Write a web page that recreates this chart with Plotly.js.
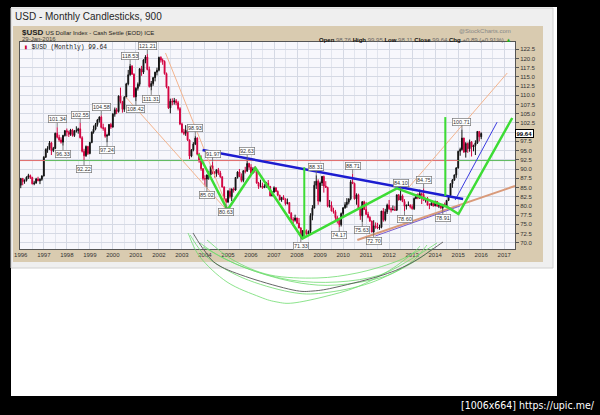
<!DOCTYPE html>
<html><head><meta charset="utf-8">
<script src="https://cdn.plot.ly/plotly-3.0.1.min.js"></script>
<style>html,body{margin:0;padding:0;background:#000;}#chart{width:600px;height:415px;}</style>
</head><body><div id="chart"></div>
<script>
// ================= DATA (monthly $USD, Jan 1996 .. Jan 2016) =================
const firstYear = 1996;
const opens = [
85.6,87.4,86.6,86.9,87.8,88.2,87.7,86.0,86.2,87.3,86.8,87.2,
88.1,93.2,95.3,95.6,97.1,95.0,95.6,99.7,98.6,97.9,97.3,99.1,
100.4,100.0,99.4,100.6,99.1,100.3,100.4,100.9,98.5,94.8,93.6,96.1,
94.2,97.2,100.0,100.8,102.1,103.3,104.1,101.3,101.0,98.9,99.2,102.1,
101.4,104.9,106.1,105.6,109.8,108.3,106.2,109.5,113.1,115.6,117.9,115.7,
109.6,111.9,113.0,117.2,116.3,119.6,120.4,117.0,112.4,113.2,114.8,116.3,
116.8,120.3,119.6,119.2,115.9,112.3,106.6,108.4,108.2,108.5,108.0,106.4,
102.2,100.0,99.7,100.5,97.9,93.5,95.2,96.8,98.4,94.0,92.2,90.1,
87.4,87.3,88.4,88.4,90.9,88.9,88.8,89.8,88.9,87.9,85.1,81.8,
81.0,84.0,82.5,84.6,84.3,87.7,89.2,88.0,86.9,89.5,89.4,91.5,
90.5,88.9,90.0,89.5,86.2,85.3,85.4,85.0,85.3,86.1,85.3,82.7,
83.7,84.9,83.9,82.9,81.6,82.3,81.9,80.6,80.9,78.0,76.3,76.1,
76.7,75.3,74.0,71.8,73.3,72.6,72.4,73.1,77.4,79.4,85.6,86.7,
81.3,86.2,88.0,85.4,85.0,79.9,80.1,78.6,78.4,76.8,76.4,74.9,
77.9,79.5,80.3,81.0,81.9,86.5,86.1,81.9,83.0,79.2,77.3,81.1,
79.0,77.7,76.9,75.9,72.9,74.6,74.3,74.0,74.2,78.6,76.2,78.4,
80.2,79.2,78.9,79.0,78.8,83.0,81.6,82.7,81.2,79.9,80.2,80.2,
79.8,79.2,82.0,83.0,82.1,83.3,83.1,81.5,82.0,80.2,80.2,80.7,
80.0,81.2,79.9,80.1,79.5,80.4,79.8,81.5,82.8,86.0,87.0,88.4,
90.3,94.8,95.3,98.4,94.6,96.9,95.5,97.3,96.0,96.4,97.1,100.2,
98.76];
const highs = [
87.6,87.6,87.2,88.0,88.7,88.5,87.9,86.8,87.6,87.9,87.5,88.3,
93.5,95.6,96.2,97.6,97.4,96.0,99.9,101.34,99.3,98.6,99.3,100.6,
101.0,100.4,100.9,100.9,100.6,101.6,101.2,102.55,98.9,95.5,96.4,96.3,
97.4,100.2,101.8,102.5,103.6,104.3,104.58,102.3,101.4,99.6,102.2,102.5,
105.2,106.7,106.6,110.0,112.1,108.5,109.8,113.4,116.9,118.53,118.2,116.0,
112.2,113.5,117.4,118.0,119.8,120.9,121.21,117.8,113.9,115.0,116.4,117.5,
120.5,120.6,120.0,119.5,116.2,112.4,109.1,109.2,109.3,109.0,108.5,106.8,
102.6,100.9,101.9,100.8,98.0,95.4,97.3,98.93,98.6,94.4,93.7,90.2,
88.3,88.5,89.5,91.0,91.97,89.4,89.9,90.3,89.5,88.0,85.3,82.1,
84.3,84.8,84.7,85.0,87.8,89.4,90.0,88.8,89.7,90.6,92.63,91.7,
91.3,90.5,90.7,89.7,86.5,87.1,86.3,85.9,86.5,87.0,85.4,83.9,
85.3,85.0,84.2,83.0,82.4,82.9,82.0,82.0,80.9,78.3,76.9,77.6,
76.8,76.7,74.2,73.4,73.5,73.6,73.3,78.0,80.2,86.7,88.31,87.2,
86.6,88.1,88.2,86.7,85.2,81.6,81.2,79.5,78.9,77.3,76.6,78.2,
79.6,81.0,82.1,82.0,87.0,88.71,86.3,83.4,83.3,79.3,81.3,81.4,
81.0,78.4,77.2,76.0,76.1,75.5,75.4,74.9,78.6,79.4,79.2,80.6,
81.6,79.6,80.1,79.9,83.0,83.2,84.10,83.1,81.8,80.3,81.2,80.4,
80.4,82.3,83.2,83.4,84.4,83.6,84.75,82.2,82.4,80.7,81.5,81.0,
81.4,81.3,80.5,80.4,80.4,80.9,81.5,82.8,86.1,87.3,88.5,90.5,
95.0,95.8,100.71,98.5,97.3,97.2,98.0,97.6,96.6,97.8,100.3,100.2,
99.95];
const lows = [
84.8,85.6,86.0,86.6,87.3,87.3,85.8,85.6,86.0,86.7,85.9,86.8,
88.0,93.0,94.4,95.2,93.8,94.6,95.4,98.3,97.4,96.9,96.33,98.8,
98.9,98.7,99.0,98.8,98.7,99.9,99.6,98.3,94.5,92.22,93.3,93.8,
94.0,97.0,99.6,100.5,101.5,102.6,101.0,100.4,98.5,97.24,99.0,100.9,
101.2,104.2,104.9,105.3,107.8,105.3,105.5,109.2,112.7,115.3,115.6,109.4,
108.42,111.3,112.4,115.3,115.8,118.7,116.8,112.1,111.31,112.6,113.8,115.4,
116.5,118.9,118.3,115.6,111.9,106.3,105.1,107.3,107.5,107.3,105.9,101.9,
99.7,99.2,99.0,97.6,92.7,93.2,94.8,96.5,93.7,91.7,89.5,86.9,
85.3,85.02,87.1,88.3,88.6,87.7,87.9,88.4,87.6,85.0,81.6,80.63,
80.9,82.0,81.3,83.6,84.1,87.4,87.8,86.4,86.4,88.8,89.3,89.8,
88.2,88.8,89.0,86.0,84.6,85.0,84.6,84.8,84.9,85.0,82.6,82.6,
83.6,83.8,82.7,81.5,81.1,81.6,80.1,80.4,77.9,76.2,74.5,75.7,
75.1,73.9,71.33,71.5,72.1,72.2,71.9,72.6,76.1,79.3,84.6,80.3,
81.0,85.4,83.6,84.9,79.6,79.5,78.5,77.9,76.1,75.2,74.17,74.4,
76.8,79.2,79.5,80.4,81.5,85.9,81.7,80.3,78.9,76.2,75.63,78.9,
77.5,76.6,75.6,72.8,72.70,73.8,73.7,73.5,73.9,75.7,75.8,77.8,
78.9,78.2,78.8,78.7,78.7,81.5,81.5,81.0,78.60,79.0,80.0,79.3,
79.0,78.9,81.8,81.8,81.9,80.5,81.4,80.9,80.1,79.1,80.0,79.8,
79.9,79.8,79.4,79.1,78.91,79.7,79.6,81.3,82.7,84.9,86.8,87.6,
90.1,93.6,95.0,94.4,93.1,94.4,94.7,93.4,94.8,93.8,96.8,97.5,
98.11];
const closes = [
87.4,86.6,86.9,87.8,88.2,87.7,86.0,86.2,87.3,86.8,87.2,88.1,
93.2,95.3,95.6,97.1,95.0,95.6,99.7,98.6,97.9,97.3,99.1,100.4,
100.0,99.4,100.6,99.1,100.3,100.4,100.9,98.5,94.8,93.6,96.1,94.2,
97.2,100.0,100.8,102.1,103.3,104.1,101.3,101.0,98.9,99.2,102.1,101.4,
104.9,106.1,105.6,109.8,108.3,106.2,109.5,113.1,115.6,117.9,115.7,109.6,
111.9,113.0,117.2,116.3,119.6,120.4,117.0,112.4,113.2,114.8,116.3,116.8,
120.3,119.6,119.2,115.9,112.3,106.6,108.4,108.2,108.5,108.0,106.4,102.2,
100.0,99.7,100.5,97.9,93.5,95.2,96.8,98.4,94.0,92.2,90.1,87.4,
87.3,88.4,88.4,90.9,88.9,88.8,89.8,88.9,87.9,85.1,81.8,81.0,
84.0,82.5,84.6,84.3,87.7,89.2,88.0,86.9,89.5,89.4,91.5,90.5,
88.9,90.0,89.5,86.2,85.3,85.4,85.0,85.3,86.1,85.3,82.7,83.7,
84.9,83.9,82.9,81.6,82.3,81.9,80.6,80.9,78.0,76.3,76.1,76.7,
75.3,74.0,71.8,73.3,72.6,72.4,73.1,77.4,79.4,85.6,86.7,81.3,
86.2,88.0,85.4,85.0,79.9,80.1,78.6,78.4,76.8,76.4,74.9,77.9,
79.5,80.3,81.0,81.9,86.5,86.1,81.9,83.0,79.2,77.3,81.1,79.0,
77.7,76.9,75.9,72.9,74.6,74.3,74.0,74.2,78.6,76.2,78.4,80.2,
79.2,78.9,79.0,78.8,83.0,81.6,82.7,81.2,79.9,80.2,80.2,79.8,
79.2,82.0,83.0,82.1,83.3,83.1,81.5,82.0,80.2,80.2,80.7,80.0,
81.2,79.9,80.1,79.5,80.4,79.8,81.5,82.8,86.0,87.0,88.4,90.3,
94.8,95.3,98.4,94.6,96.9,95.5,97.3,96.0,96.4,97.1,100.2,98.75,
99.64];

// swing-point price labels (months whose high / low is tagged)
const peakMonths   = ['1997-08','1998-08','1999-07','2000-10','2001-07','2003-08','2004-05','2005-11','2008-11','2010-06','2012-07','2013-07','2015-03'];
const troughMonths = ['1997-11','1998-10','1999-10','2001-01','2001-09','2004-02','2004-12','2008-03','2009-11','2010-11','2011-05','2012-09','2014-05'];

// header quote values
const lastQuote = {open:'98.76', high:'99.95', low:'98.11', close:'99.64', chg:'+0.89', pct:'+0.91%'};

// price-axis labels shown (100.0 sits under the last-price tag)
const yTickVals = [70,72.5,75,77.5,80,82.5,85,87.5,90,92.5,95,97.5,102.5,105,107.5,110,112.5,115,117.5,120,122.5];

// ----- user-drawn annotation lines (date, price) -----
const levelValue = 92.3;
const levelSegX = [['1995-12-20','1997-01-20'],['1997-01-20','2003-09-15'],['2003-09-15','2015-01-02'],['2015-01-02','2017-06-20']];
const levelSegAbove = [false,true,false,true];
const greenZigX = ['2003-09-20','2004-12-24','2006-03-13','2008-03-25','2012-05-03','2014-07-05','2015-01-05','2017-05-07'];
const greenZigY = [94.07,78.87,90.27,71.13,84.76,79.77,77.78,103.85];
const greenV1X = ['2008-04-25','2008-04-25'], greenV1Y = [90.5,71.3];
const greenV2X = ['2014-06-10','2014-06-10'], greenV2Y = [104.1,82.7];
const blueTrendX = ['2003-11-24','2015-03-20'], blueTrendY = [95.16,81.86];
const blueThinX = ['2014-11-13','2016-09-09'], blueThinY = [81.58,102.73];
const peachAX = ['2002-04-15','2005-01-08'], peachAY = [121.5,78.87];
const peachBX = ['2000-07-24','2005-01-08'], peachBY = [109.55,78.3];
const peachCX = ['2012-10-30','2017-02-17'], peachCY = [84.85,116.06];
const salmonX = ['2010-08-14','2017-06-20'], salmonY = [70.73,85.39];
const purpleX = ['2011-05-26','2015-02-02'], purpleY = [71.82,79.97];

// ----- hand-drawn arcs under the chart (image pixel coords) -----
const arcGray = [[193,233],[204,250],[218,265],[250,278],[293,290],[313,291],[337,287],[383,275],[413,262],[443,242]];
const arcsGreen = [
 [[188,233],[200,257],[227,282],[260,297],[277,302],[293,303],[323,297],[357,287],[390,270],[413,253],[420,246]],
 [[190,235],[207,257],[243,278],[290,292],[323,293],[370,283],[410,263],[427,245]],
 [[200,243],[223,258],[260,273],[300,283],[337,285],[383,277],[417,260],[433,248]],
 [[203,247],[243,267],[290,280],[337,282],[380,275],[413,258],[437,243]],
 [[207,240],[233,260],[270,275],[317,278],[357,273],[395,262],[420,250]]
];

// ================= BUILD =================
const dates = opens.map((_, i) => {
  const y = firstYear + Math.floor(i / 12), m = (i % 12) + 1;
  return y + '-' + String(m).padStart(2, '0') + '-01';
});
const idxOf = ym => dates.indexOf(ym + '-01');

const PL = 20, PR = 515, PT = 42, PB = 249;          // plot box in pixels
const px = x => (x - PL) / (PR - PL);
const py = y => (PB - y) / (PB - PT);
const SANS = 'Liberation Sans, Arial, sans-serif';

function smoothPath(pts) {
  const p = pts.map(([x, y]) => [px(x), py(y)]);
  let d = 'M' + p[0][0] + ',' + p[0][1];
  for (let i = 0; i < p.length - 1; i++) {
    const p0 = p[i - 1] || p[i], p1 = p[i], p2 = p[i + 1], p3 = p[i + 2] || p2;
    const c1 = [p1[0] + (p2[0] - p0[0]) / 6, p1[1] + (p2[1] - p0[1]) / 6];
    const c2 = [p2[0] - (p3[0] - p1[0]) / 6, p2[1] - (p3[1] - p1[1]) / 6];
    d += ' C' + c1[0] + ',' + c1[1] + ' ' + c2[0] + ',' + c2[1] + ' ' + p2[0] + ',' + p2[1];
  }
  return d;
}
function rect(x0, y0, x1, y1, fill, lineColor) {
  return {type: 'rect', xref: 'paper', yref: 'paper', layer: 'below',
    x0: px(x0), x1: px(x1), y0: py(y1), y1: py(y0), fillcolor: fill,
    line: {width: lineColor ? 1 : 0, color: lineColor || fill}};
}

const traces = [];
levelSegX.forEach((seg, i) => traces.push({type: 'scatter', mode: 'lines', x: seg, y: [levelValue, levelValue],
  line: {color: levelSegAbove[i] ? '#5cb85c' : '#e06a6a', width: 1}, hoverinfo: 'skip', showlegend: false}));
traces.push({type: 'candlestick', x: dates, open: opens, high: highs, low: lows, close: closes,
  increasing: {line: {color: '#111111', width: 1}, fillcolor: '#111111'},
  decreasing: {line: {color: '#d2003f', width: 1}, fillcolor: '#d2003f'},
  whiskerwidth: 0, hoverinfo: 'skip', showlegend: false});
const line = (x, y, color, width) => ({type: 'scatter', mode: 'lines', x, y, line: {color, width}, hoverinfo: 'skip', showlegend: false});
traces.push(line(peachAX, peachAY, '#f3b48e', 1));
traces.push(line(peachBX, peachBY, '#f3b48e', 1));
traces.push(line(peachCX, peachCY, '#f3b48e', 1));
traces.push(line(salmonX, salmonY, '#d99a7a', 2));
traces.push(line(purpleX, purpleY, '#7a5ccf', 1));
traces.push(line(blueThinX, blueThinY, '#3a3ae0', 1));
traces.push(line(blueTrendX, blueTrendY, '#1c1cd0', 2.5));
traces.push(line(greenZigX, greenZigY, '#3ddc35', 2.5));
traces.push(line(greenV1X, greenV1Y, '#3ddc35', 2));
traces.push(line(greenV2X, greenV2Y, '#3ddc35', 2));

const shapes = [
  rect(11, 7, 557, 396, '#ffffff'),
  rect(11, 8, 553, 268, '#efefef', '#d0d0d0'),
  rect(13, 26, 543, 262, '#d9cbb0'),
  rect(PL, PT, PR, PB, '#f7f7fc')
];
arcsGreen.forEach(a => shapes.push({type: 'path', xref: 'paper', yref: 'paper', layer: 'above', path: smoothPath(a), line: {color: '#6fdc6f', width: 0.8}}));
shapes.push({type: 'path', xref: 'paper', yref: 'paper', layer: 'above', path: smoothPath(arcGray), line: {color: '#555555', width: 0.9}});

const txt = (x, y, text, size, color, xanchor, family) => ({xref: 'paper', yref: 'paper', x: px(x), y: py(y), text,
  showarrow: false, xanchor: xanchor || 'left', yanchor: 'middle', font: {family: family || SANS, size, color: color || '#222'}});

const annotations = [
  txt(13, 17, 'USD - Monthly Candlesticks, 900', 10, '#262626'),
  txt(20, 32, '<b>$USD</b> <span style="font-size:6px">US Dollar Index - Cash Settle (EOD) ICE</span>', 8, '#222'),
  txt(20, 39, '29-Jan-2016', 6, '#444'),
  txt(513, 31, '@StockCharts.com', 6, '#888', 'right'),
  txt(513, 40, '<b>Open</b> <span style="color:#666">' + lastQuote.open + '</span> <b>High</b> <span style="color:#666">' + lastQuote.high +
     '</span> <b>Low</b> <span style="color:#666">' + lastQuote.low + '</span> <b>Close</b> <span style="color:#666">' + lastQuote.close +
     '</span> <b>Chg</b> <span style="color:#666">' + lastQuote.chg + ' (' + lastQuote.pct + ')</span> <span style="color:#2a2">▲</span>', 6, '#111', 'right'),
  txt(22, 47, '<span style="color:#c03">▮</span> $USD (Monthly) ' + lastQuote.close, 6.3, '#222', 'left', 'Liberation Mono, monospace'),
  txt(597, 405, '[1006x664] https://upic.me/', 10.5, '#ffffff', 'right', 'DejaVu Sans Condensed, DejaVu Sans, sans-serif'),
  {xref: 'paper', yref: 'y', x: 1, y: closes[closes.length - 1], text: '<b>' + closes[closes.length - 1].toFixed(2) + '</b>',
   showarrow: false, xanchor: 'left', yanchor: 'middle', bgcolor: '#ffffff', bordercolor: '#000', borderwidth: 1, borderpad: 0.5,
   font: {family: SANS, size: 6, color: '#000'}}
];
peakMonths.forEach(m => { const i = idxOf(m); annotations.push({x: dates[i], y: highs[i], xref: 'x', yref: 'y',
  text: highs[i].toFixed(2), showarrow: true, arrowhead: 0, arrowwidth: 0.8, arrowcolor: '#666', ax: 0, ay: -8,
  bgcolor: '#ffffff', bordercolor: '#777', borderwidth: 0.7, borderpad: 0.3, font: {family: SANS, size: 5.5, color: '#333'}}); });
troughMonths.forEach(m => { const i = idxOf(m); annotations.push({x: dates[i], y: lows[i], xref: 'x', yref: 'y',
  text: lows[i].toFixed(2), showarrow: true, arrowhead: 0, arrowwidth: 0.8, arrowcolor: '#666', ax: 0, ay: 8,
  bgcolor: '#ffffff', bordercolor: '#777', borderwidth: 0.7, borderpad: 0.3, font: {family: SANS, size: 5.5, color: '#333'}}); });

const layout = {
  width: 600, height: 415,
  margin: {l: PL, r: 600 - PR, t: PT, b: 415 - PB, pad: 0, autoexpand: false},
  paper_bgcolor: '#000000', plot_bgcolor: '#f7f7fc',
  showlegend: false, hovermode: false,
  xaxis: {type: 'date', range: ['1995-12-20', '2017-06-20'], tick0: '1996-01-01', dtick: 'M12', tickformat: '%Y',
    showgrid: true, gridcolor: '#d5d9e4', gridwidth: 1,
    minor: {dtick: 'M6', tick0: '1996-01-01', showgrid: true, gridcolor: '#e2e5ee', gridwidth: 1},
    showline: true, linecolor: '#555', linewidth: 1, mirror: true, ticks: '', zeroline: false,
    tickfont: {family: SANS, size: 6, color: '#333'}, rangeslider: {visible: false}, fixedrange: true},
  yaxis: {side: 'right', range: [68.29, 124.48], tickmode: 'array', tickvals: yTickVals,
    ticktext: yTickVals.map(v => v.toFixed(1)),
    ticks: 'outside', ticklen: 3, tickcolor: '#555', showgrid: true, gridcolor: '#d5d9e4',
    minor: {tick0: 70, dtick: 2.5, showgrid: true, gridcolor: '#d5d9e4', ticks: 'outside', ticklen: 3, tickcolor: '#555'},
    showline: true, linecolor: '#555', linewidth: 1, mirror: true, zeroline: false,
    tickfont: {family: SANS, size: 6, color: '#333'}, fixedrange: true},
  shapes, annotations
};
Plotly.newPlot('chart', traces, layout, {staticPlot: true, displayModeBar: false});
</script>
</body></html>
